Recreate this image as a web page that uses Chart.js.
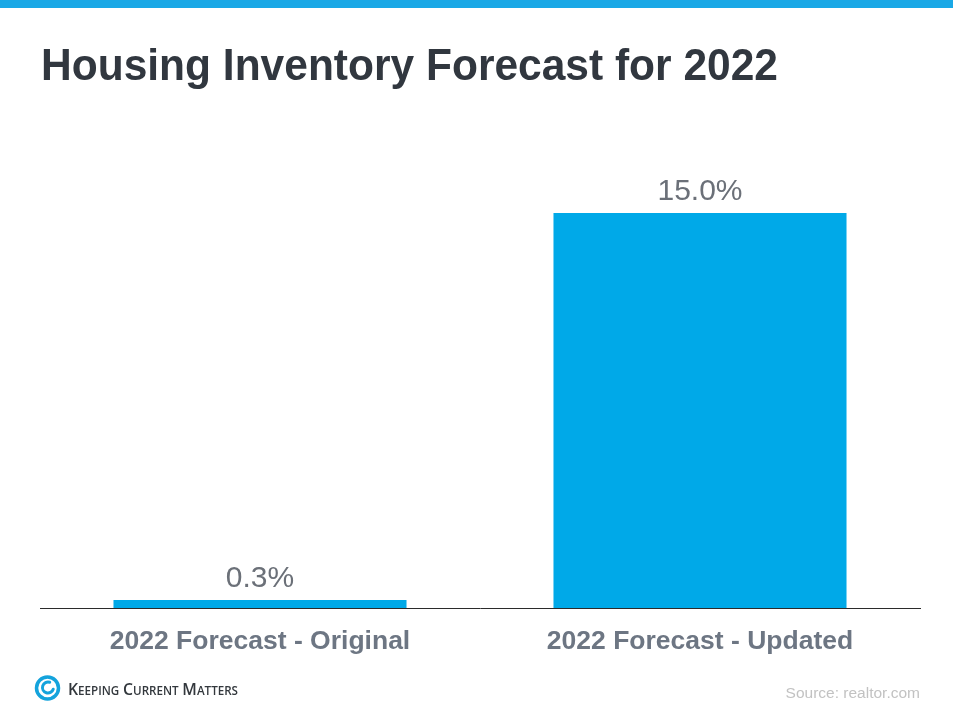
<!DOCTYPE html>
<html>
<head>
<meta charset="utf-8">
<script src="https://cdn.jsdelivr.net/npm/chart.js@4/dist/chart.umd.min.js"></script>
<style>
  html, body { margin: 0; padding: 0; background: #fff; }
  #wrap { position: relative; width: 953px; height: 709px; }
</style>
</head>
<body>
<div id="wrap"><canvas id="chart"></canvas></div>
<script>
"use strict";

// data
var categories = ['2022 Forecast - Original', '2022 Forecast - Updated'];
var forecastValues = [0.3, 15.0];
var valueLabels = ['0.3%', '15.0%'];

var titleText = 'Housing Inventory Forecast for 2022';
var sourceText = 'Source: realtor.com';

var BLUE = '#00a9e8';

// title, top stripe, logo and source
var decorPlugin = {
    id: 'decor',
    beforeDraw: function (chart) {
        var ctx = chart.ctx;
        ctx.save();
        ctx.fillStyle = '#ffffff';
        ctx.fillRect(0, 0, chart.width, chart.height);
        ctx.fillStyle = '#1aa8e6';
        ctx.fillRect(0, 0, chart.width, 8);

        // title, squeezed to the width of the original
        ctx.font = 'bold 45px "Liberation Sans", Arial, sans-serif';
        ctx.fillStyle = '#31373f';
        ctx.textBaseline = 'alphabetic';
        var w = ctx.measureText(titleText).width;
        ctx.translate(41, 80);
        ctx.scale(737 / w, 1);
        ctx.fillText(titleText, 0, 0);
        ctx.restore();

        // source
        ctx.save();
        ctx.font = '15.5px "Liberation Sans", Arial, sans-serif';
        ctx.fillStyle = '#c2c2c2';
        ctx.textAlign = 'right';
        ctx.fillText(sourceText, 920, 698);
        ctx.restore();

        // logo swirl
        ctx.save();
        ctx.strokeStyle = '#14a3dc';
        ctx.lineCap = 'round';
        ctx.lineWidth = 3.5;
        ctx.beginPath();
        ctx.arc(47.5, 688, 11, 0, Math.PI * 2);
        ctx.stroke();
        ctx.lineWidth = 3;
        ctx.beginPath();
        ctx.arc(48, 687.5, 5.5, Math.PI * 0.1, Math.PI * 1.6);
        ctx.stroke();
        ctx.restore();

        // logo text in small caps, fitted to 170px
        ctx.save();
        ctx.fillStyle = '#33383d';
        ctx.textBaseline = 'alphabetic';
        var words = ['Keeping', 'Current', 'Matters'];
        var parts = [];
        var total = 0;
        words.forEach(function (word) {
            ctx.font = '600 17px "Open Sans", sans-serif';
            var a = ctx.measureText(word[0]).width;
            ctx.font = '600 12.5px "Open Sans", sans-serif';
            var rest = word.slice(1).toUpperCase();
            var b = ctx.measureText(rest).width;
            parts.push([word[0], a, rest, b]);
            total += a + b;
        });
        total += 8;
        ctx.translate(68, 695);
        ctx.scale(170 / total, 1);
        var x = 0;
        parts.forEach(function (p) {
            ctx.font = '600 17px "Open Sans", sans-serif';
            ctx.fillText(p[0], x, 0);
            x += p[1];
            ctx.font = '600 12.5px "Open Sans", sans-serif';
            ctx.fillText(p[2], x, 0);
            x += p[3] + 4;
        });
        ctx.restore();
    }
};

// value labels above bars, placed from the bar elements
var valuePlugin = {
    id: 'values',
    afterDatasetsDraw: function (chart) {
        var ctx = chart.ctx;
        var meta = chart.getDatasetMeta(0);
        ctx.save();
        ctx.font = '30px "Liberation Sans", Arial, sans-serif';
        ctx.fillStyle = '#6b7078';
        ctx.textAlign = 'center';
        ctx.textBaseline = 'alphabetic';
        meta.data.forEach(function (bar, i) {
            ctx.fillText(valueLabels[i], bar.x, bar.y - 13);
        });
        ctx.restore();
    }
};

var chart = new Chart(document.getElementById('chart'), {
    type: 'bar',
    data: {
        labels: categories,
        datasets: [{
            data: forecastValues,
            backgroundColor: BLUE,
            borderWidth: 0,
            categoryPercentage: 1,
            barPercentage: 0.666
        }]
    },
    options: {
        responsive: true,
        maintainAspectRatio: false,
        animation: false,
        events: [],
        layout: {
            padding: { left: 40, right: 33, top: 134, bottom: 0 }
        },
        plugins: {
            legend: { display: false },
            tooltip: { enabled: false }
        },
        scales: {
            x: {
                grid: { display: false, drawTicks: false },
                border: { display: true, color: '#2b2b2b', width: 1 },
                ticks: {
                    color: '#6d7683',
                    padding: 18,
                    font: { family: '"Liberation Sans", Arial, sans-serif', size: 26.5, weight: 'bold' }
                },
                afterFit: function (scale) { scale.height = 101; }
            },
            y: {
                display: false,
                min: 0,
                max: 18
            }
        }
    },
    plugins: [decorPlugin, valuePlugin]
});
</script>
</body>
</html>
